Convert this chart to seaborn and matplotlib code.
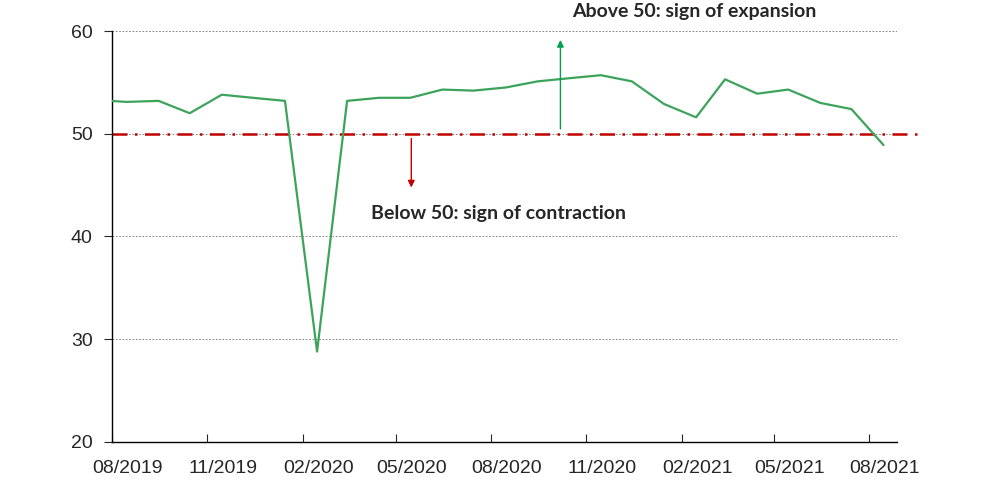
import pandas as pd
import matplotlib
matplotlib.use("Agg")
import matplotlib.pyplot as plt
import seaborn as sns

# Monthly PMI readings (plotted mid-month), Jul 2019 - Aug 2021
pmi = [53.3, 53.1, 53.2, 52.0, 53.8, 53.5, 53.2, 28.8, 53.2, 53.5, 53.5, 54.3, 54.2,
       54.5, 55.1, 55.4, 55.7, 55.1, 52.9, 51.6, 55.3, 53.9, 54.3, 53.0, 52.4, 48.9]
months = pd.date_range("2019-07-01", periods=len(pmi), freq="MS") + pd.Timedelta(days=14)

tick_dates = pd.date_range("2019-08-01", "2021-08-01", freq="3MS")
y_ticks = [20, 30, 40, 50, 60]
threshold = 50

df = pd.DataFrame({"month": months, "pmi": pmi})

sns.set_style("white")
plt.rcParams["font.family"] = ["Liberation Sans", "DejaVu Sans"]

fig = plt.figure(figsize=(9.87, 4.90), dpi=100)
ax = fig.add_axes([0.1135, 0.098, 0.7953, 0.8387])

# horizontal grid
for y in y_ticks[1:]:
    ax.axhline(y, color="#707070", linestyle=(0, (2, 2)), linewidth=0.6, zorder=1)

sns.lineplot(data=df, x="month", y="pmi", ax=ax, color="#3ca35a", linewidth=1.6, zorder=3)

# threshold line (runs past the plot area)
ax.plot([pd.Timestamp("2019-08-01"), pd.Timestamp("2021-09-22")], [threshold, threshold],
        color="#c00000", linestyle=(0, (6, 3, 1, 3)), linewidth=1.8, clip_on=False, zorder=2)

ax.set_xlim(pd.Timestamp("2019-08-01"), pd.Timestamp("2021-08-28"))
ax.set_ylim(20, 60)
ax.set_yticks(y_ticks)

# tick marks at month starts, labels centred on the month
ax.set_xticks(tick_dates, minor=True)
ax.set_xticks(tick_dates + pd.Timedelta(days=15))
ax.set_xticklabels([d.strftime("%m/%Y") for d in tick_dates])
ax.set_xlabel("")
ax.set_ylabel("")

for side in ["top", "right"]:
    ax.spines[side].set_visible(False)
for side in ["left", "bottom"]:
    ax.spines[side].set_color("black")
    ax.spines[side].set_linewidth(1.0)

ax.tick_params(axis="y", direction="out", length=6, width=0.8, labelsize=14, pad=8, left=True)
ax.tick_params(axis="x", which="major", length=0, labelsize=14, pad=13, bottom=True)
ax.tick_params(axis="x", which="minor", direction="in", length=6, width=0.8, bottom=True)

# annotations
ax.annotate("", xy=(pd.Timestamp("2020-10-07"), 59.4), xytext=(pd.Timestamp("2020-10-07"), 50.2),
            arrowprops=dict(arrowstyle="-|>", color="#00a050", lw=1.0, mutation_scale=10))
ax.annotate("", xy=(pd.Timestamp("2020-05-16"), 44.5), xytext=(pd.Timestamp("2020-05-16"), 49.8),
            arrowprops=dict(arrowstyle="-|>", color="#c00000", lw=1.0, mutation_scale=10))
ax.text(pd.Timestamp("2020-10-18"), 61.9, "Above 50: sign of expansion", fontsize=14,
        fontweight="bold", family=["Lato", "DejaVu Sans"], ha="left", va="center")
ax.text(pd.Timestamp("2020-04-07"), 42.2, "Below 50: sign of contraction", fontsize=14,
        fontweight="bold", family=["Lato", "DejaVu Sans"], ha="left", va="center")

plt.savefig("out.png", dpi=100)
plt.close()
